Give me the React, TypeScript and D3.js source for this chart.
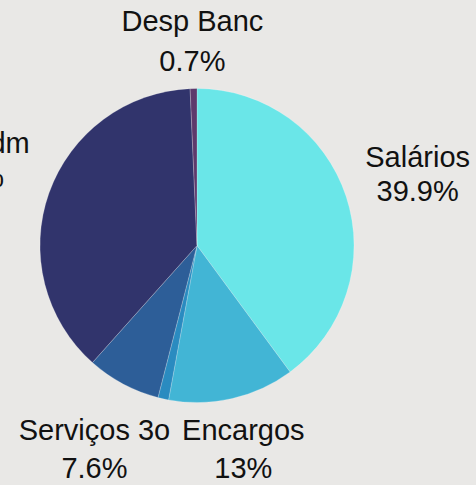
import React, { useEffect, useRef } from "react";
import * as d3 from "d3";

// chart data (percent of total, clockwise from 12 o'clock)
const categories = ["Salários", "Encargos", "Outros", "Serviços 3o", "Desp Adm", "Desp Banc"];
const percents = [39.9, 13, 1.1, 7.6, 37.7, 0.7];
const sliceColors = ["#6ae6e8", "#42b5d5", "#2a8bc0", "#2d5e98", "#31346c", "#5d3a6c"];

const width = 476;
const height = 485;
const cx = 197;
const cy = 245.5;
const radius = 157;
const fontSize = 29;
const labelRing = radius + 30;

// label offsets from the anchor on the label ring (mimics the original layout)
const labelNudge: Record<string, { dx: number; dy: number; lead: number }> = {
  "Salários": { dx: 43, dy: -20.5, lead: 34.3 },
  "Encargos": { dx: 4.4, dy: 12.3, lead: 38 },
  "Serviços 3o": { dx: -14.5, dy: 29.5, lead: 38 },
  "Desp Adm": { dx: -58, dy: -29.4, lead: 34 },
  "Desp Banc": { dx: -0.5, dy: -27.5, lead: 39.7 },
};

type Row = { name: string; value: number; color: string };

const App = () => {
  const svgRef = useRef<SVGSVGElement>(null);

  useEffect(() => {
    const rows: Row[] = categories.map((c, i) => ({ name: c, value: percents[i], color: sliceColors[i] }));

    const svg = d3.select(svgRef.current);
    svg.selectAll("*").remove();

    svg
      .append("rect")
      .attr("width", width)
      .attr("height", height)
      .attr("fill", "#e9e8e6");

    const pie = d3
      .pie<Row>()
      .sort(null)
      .value((d) => d.value);
    const arcs = pie(rows);

    const arc = d3.arc<d3.PieArcDatum<Row>>().innerRadius(0).outerRadius(radius);
    const labelArc = d3.arc<d3.PieArcDatum<Row>>().innerRadius(labelRing).outerRadius(labelRing);

    const g = svg.append("g").attr("transform", `translate(${cx},${cy})`);

    g.selectAll("path")
      .data(arcs)
      .join("path")
      .attr("d", arc)
      .attr("fill", (d) => d.data.color)
      .attr("stroke", "rgba(255,255,255,0.35)")
      .attr("stroke-width", 0.6);

    // labels, biggest slices first; drop any that would overlap one already placed
    const placed: DOMRect[] = [];
    const order = [...arcs].sort((a, b) => b.data.value - a.data.value);
    const labels = g.append("g")
      .attr("font-family", "'Liberation Sans', Arial, sans-serif")
      .attr("font-size", fontSize)
      .attr("fill", "#111")
      .attr("text-anchor", "middle");

    order.forEach((d) => {
      const [ax, ay] = labelArc.centroid(d);
      const nudge = labelNudge[d.data.name] || { dx: 0, dy: 0, lead: 37 };
      const x = ax + nudge.dx;
      const y = ay + nudge.dy;
      const lines = [d.data.name, `${d.data.value}%`];

      const text = labels.append("text");
      text
        .selectAll("tspan")
        .data(lines)
        .join("tspan")
        .attr("x", x)
        .attr("y", (_, i) => y + i * nudge.lead)
        .text((t) => t);

      const b = (text.node() as SVGTextElement).getBBox();
      const hit = placed.some(
        (p) => b.x < p.x + p.width && b.x + b.width > p.x && b.y < p.y + p.height && b.y + b.height > p.y
      );
      if (hit) text.remove();
      else placed.push(b);
    });
  }, []);

  return (
    <svg
      ref={svgRef}
      width={width}
      height={height}
      style={{ position: "absolute", left: 0, top: 0, display: "block" }}
    />
  );
};

export default App;
